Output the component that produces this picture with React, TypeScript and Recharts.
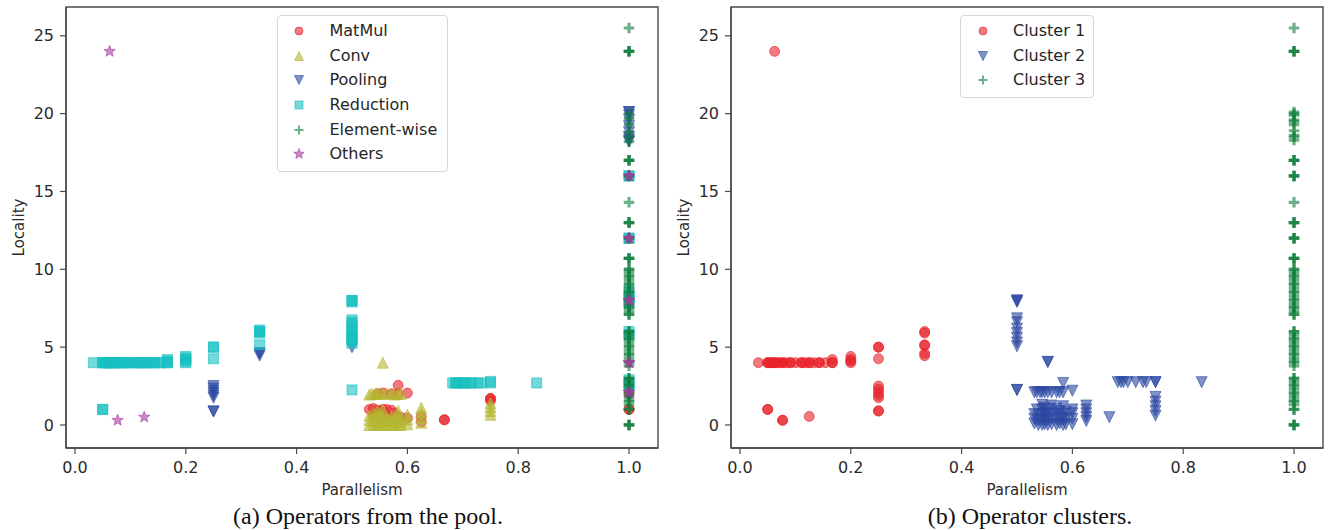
import React from 'react';
import { ScatterChart, Scatter, XAxis, YAxis, Legend, ReferenceArea } from 'recharts';

type Pt = [number, number];

// ---------- axes ----------
const xTicks = [0, 0.2, 0.4, 0.6, 0.8, 1.0];
const yTicks = [0, 5, 10, 15, 20, 25];
const xDomain: [number, number] = [-0.0162, 1.0523];
const yDomain: [number, number] = [-1.48, 26.85];
const xLabel = 'Parallelism';
const yLabel = 'Locality';
const captionA = '(a) Operators from the pool.';
const captionB = '(b) Operator clusters.';

// ---------- (a) operators from the pool ----------
const matmul: Pt[] = [
  [0.5833, 2.55], [0.6, 2.05],
  [0.5455, 2.0], [0.5556, 2.05], [0.5714, 2.0], [0.5833, 2.0],
  [0.5313, 1.0], [0.5385, 1.05], [0.5455, 0.95], [0.5556, 1.0], [0.5625, 1.0], [0.5714, 0.95],
  [0.5769, 0.75], [0.5385, 0.6], [0.55, 0.55], [0.5625, 0.5], [0.5882, 0.5],
  [0.6, 0.45], [0.625, 0.2], [0.625, 0.55],
  [0.6667, 0.33], [0.6667, 0.33],
  [0.75, 1.7], [0.75, 1.55], [0.75, 1.7],
  [1.0, 2.0], [1.0, 1.0], [1.0, 1.0],
];

const conv: Pt[] = [
  [0.5556, 4.0],
  [0.5313, 1.95], [0.5357, 2.0], [0.5417, 2.0], [0.5455, 2.05], [0.55, 2.0], [0.5556, 2.0],
  [0.5625, 2.05], [0.5714, 2.0], [0.5769, 1.95], [0.5833, 2.0], [0.5882, 2.0],
  [0.5313, 0.0], [0.5313, 0.3], [0.5313, 0.6],
  [0.5385, 0.0], [0.5385, 0.25], [0.5385, 0.5], [0.5385, 0.8],
  [0.5455, 0.0], [0.5455, 0.3], [0.5455, 0.6], [0.5455, 0.9],
  [0.55, 0.0], [0.55, 0.2], [0.55, 0.5], [0.55, 0.7],
  [0.5556, 0.0], [0.5556, 0.3], [0.5556, 0.6], [0.5556, 1.0],
  [0.5625, 0.0], [0.5625, 0.25], [0.5625, 0.5],
  [0.5714, 0.0], [0.5714, 0.3], [0.5714, 0.6],
  [0.5769, 0.0], [0.5769, 0.2], [0.5769, 0.45],
  [0.5833, 0.0], [0.5833, 0.3], [0.5833, 0.6], [0.5833, 0.9],
  [0.5882, 0.0], [0.5882, 0.2], [0.5882, 0.4],
  [0.6, 0.05], [0.6, 0.35], [0.6, 0.65],
  [0.625, 0.15], [0.625, 0.45], [0.625, 0.8], [0.625, 1.1],
  [0.75, 0.65], [0.75, 0.9], [0.75, 1.15], [0.75, 1.4],
];

const pooling: Pt[] = [
  [0.25, 2.5], [0.25, 2.35], [0.25, 2.2], [0.25, 2.05], [0.25, 1.9], [0.25, 1.75],
  [0.25, 0.87], [0.25, 0.87],
  [0.3333, 4.6], [0.3333, 4.45], [0.3333, 4.6],
  [0.5, 5.0],
  [1.0, 20.1], [1.0, 19.9], [1.0, 19.6], [1.0, 19.2], [1.0, 18.8], [1.0, 18.5], [1.0, 18.2],
  [1.0, 20.1], [1.0, 18.3],
];

const reduction: Pt[] = [
  [0.0333, 4], [0.05, 4], [0.0526, 4], [0.0556, 4], [0.0588, 4], [0.0625, 4], [0.0667, 4],
  [0.0714, 4], [0.0769, 4], [0.0833, 4], [0.0909, 4], [0.1, 4], [0.1111, 4], [0.1176, 4],
  [0.125, 4], [0.1333, 4], [0.1429, 4], [0.1538, 4], [0.1667, 4], [0.1667, 4.2],
  [0.2, 4], [0.2, 4.2], [0.2, 4.4],
  [0.05, 4], [0.0625, 4], [0.0769, 4], [0.0909, 4], [0.1111, 4], [0.125, 4], [0.1429, 4],
  [0.1667, 4], [0.2, 4.1],
  [0.0556, 4], [0.0714, 4], [0.0833, 4], [0.1, 4], [0.1176, 4], [0.1333, 4], [0.1538, 4],
  [0.1667, 4.1], [0.2, 4.3],
  [0.05, 1.0], [0.05, 1.0],
  [0.25, 5.0], [0.25, 5.0], [0.25, 4.25],
  [0.3333, 6.0], [0.3333, 5.9], [0.3333, 6.1], [0.3333, 5.15], [0.3333, 6.0],
  [0.5, 8.0], [0.5, 7.9], [0.5, 8.0], [0.5, 6.75], [0.5, 6.5], [0.5, 6.25], [0.5, 6.0], [0.5, 5.75],
  [0.5, 5.5], [0.5, 5.25], [0.5, 6.6], [0.5, 5.4], [0.5, 2.25], [0.5, 6.1], [0.5, 5.6],
  [0.6818, 2.7], [0.6875, 2.7], [0.6923, 2.7], [0.7, 2.7], [0.7059, 2.7], [0.7143, 2.7],
  [0.7273, 2.7], [0.7333, 2.7], [0.75, 2.7], [0.75, 2.8], [0.8333, 2.7],
  [0.6875, 2.7], [0.7143, 2.7], [0.7, 2.7],
  [1.0, 16], [1.0, 16], [1.0, 12], [1.0, 12], [1.0, 8.6], [1.0, 8.3], [1.0, 8.0], [1.0, 7.8],
  [1.0, 6.0], [1.0, 5.8], [1.0, 2.9], [1.0, 2.7], [1.0, 2.5],
];

const elementwise: Pt[] = [
  [1, 25.5], [1, 24], [1, 24], [1, 24], [1, 20.0], [1, 19.7], [1, 19.3], [1, 18.8], [1, 18.5],
  [1, 18.2], [1, 17], [1, 17], [1, 17], [1, 16], [1, 16], [1, 14.3], [1, 13], [1, 13], [1, 13],
  [1, 12], [1, 12], [1, 10.7], [1, 10.7], [1, 10.7],
  [1, 10.0], [1, 10.0], [1, 9.8], [1, 9.6], [1, 9.5], [1, 9.3], [1, 9.1], [1, 9.0], [1, 8.8],
  [1, 8.6], [1, 8.5], [1, 8.3], [1, 8.1], [1, 8.0], [1, 7.8], [1, 7.6], [1, 7.5], [1, 7.3],
  [1, 7.1], [1, 7.1],
  [1, 6.0], [1, 6.0], [1, 5.8], [1, 5.6], [1, 5.5], [1, 5.3], [1, 5.1], [1, 5.0], [1, 4.8],
  [1, 4.6], [1, 4.5], [1, 4.3], [1, 4.1], [1, 4.0], [1, 3.8],
  [1, 3.0], [1, 3.0], [1, 2.8], [1, 2.6], [1, 2.5], [1, 2.3], [1, 2.1], [1, 2.0], [1, 1.8],
  [1, 1.6], [1, 1.5], [1, 1.3], [1, 1.0], [1, 1.0], [1, 0], [1, 0], [1, 0],
];

const others: Pt[] = [
  [0.0625, 24], [0.0769, 0.3], [0.125, 0.5],
  [1, 16], [1, 16], [1, 12], [1, 12], [1, 8], [1, 8], [1, 4], [1, 4], [1, 2.1], [1, 2.1],
];

// ---------- (b) operator clusters ----------
const cluster1: Pt[] = [
  [0.0625, 24],
  [0.0333, 4], [0.05, 4], [0.0526, 4], [0.0556, 4], [0.0588, 4], [0.0625, 4], [0.0667, 4],
  [0.0714, 4], [0.0769, 4], [0.0833, 4], [0.0909, 4], [0.1, 4], [0.1111, 4], [0.1176, 4],
  [0.125, 4], [0.1333, 4], [0.1429, 4], [0.1538, 4], [0.1667, 4], [0.1667, 4.2],
  [0.2, 4], [0.2, 4.2], [0.2, 4.4],
  [0.05, 4], [0.0625, 4], [0.0769, 4], [0.0909, 4], [0.1111, 4], [0.125, 4], [0.1429, 4],
  [0.1667, 4], [0.2, 4.1],
  [0.05, 1], [0.05, 1], [0.0769, 0.3], [0.0769, 0.3], [0.125, 0.55],
  [0.25, 5], [0.25, 5], [0.25, 4.25], [0.25, 2.5], [0.25, 2.3], [0.25, 2.1], [0.25, 1.9],
  [0.25, 1.75], [0.25, 0.9], [0.25, 0.9],
  [0.3333, 6.0], [0.3333, 5.9], [0.3333, 5.15], [0.3333, 5.1], [0.3333, 4.6], [0.3333, 4.45],
];

const cluster2: Pt[] = [
  [0.5, 8.0], [0.5, 7.9], [0.5, 6.85], [0.5, 6.6], [0.5, 6.2], [0.5, 5.9], [0.5, 5.6],
  [0.5, 5.3], [0.5, 5.05], [0.5, 2.25], [0.5, 2.25], [0.5, 8.0],
  [0.5556, 4.05], [0.5556, 4.05],
  [0.5833, 2.7], [0.6, 2.2],
  [0.5313, 2.1], [0.5357, 2.1], [0.5417, 2.1], [0.5455, 2.1], [0.55, 2.1], [0.5556, 2.1],
  [0.5625, 2.1], [0.5714, 2.1], [0.5769, 2.1], [0.5833, 2.1],
  [0.5313, 0.1], [0.5313, 0.4], [0.5313, 0.7], [0.5357, 1.0],
  [0.5385, 0.0], [0.5385, 0.3], [0.5385, 0.6],
  [0.5455, 0.0], [0.5455, 0.35], [0.5455, 0.7], [0.5455, 1.0], [0.5455, 1.3],
  [0.55, 0.05], [0.55, 0.4], [0.55, 0.75], [0.55, 1.1],
  [0.5556, 0.0], [0.5556, 0.3], [0.5556, 0.65], [0.5556, 1.0],
  [0.5625, 0.05], [0.5625, 0.45], [0.5625, 0.8], [0.5625, 1.25],
  [0.5714, 0.0], [0.5714, 0.35], [0.5714, 0.7], [0.5714, 1.05],
  [0.5769, 0.1], [0.5769, 0.5], [0.5769, 0.9],
  [0.5833, 0.0], [0.5833, 0.35], [0.5833, 0.7], [0.5833, 1.2],
  [0.5882, 0.05], [0.5882, 0.45], [0.5882, 0.85],
  [0.6, 0.05], [0.6, 0.4], [0.6, 0.75], [0.6, 1.0],
  [0.625, 1.25], [0.625, 1.0], [0.625, 0.75], [0.625, 0.5], [0.625, 0.25],
  [0.6667, 0.5],
  [0.6818, 2.75], [0.6875, 2.75], [0.6923, 2.75], [0.7, 2.75], [0.7143, 2.75], [0.7273, 2.75],
  [0.7333, 2.75], [0.75, 2.75], [0.75, 2.75],
  [0.75, 1.8], [0.75, 1.5], [0.75, 1.2], [0.75, 0.9], [0.75, 0.6],
  [0.8333, 2.75],
];

const cluster3: Pt[] = [
  [1, 25.5], [1, 24], [1, 24], [1, 24], [1, 20.1], [1, 20.0], [1, 19.9], [1, 19.6], [1, 19.5],
  [1, 19.3], [1, 18.9], [1, 18.6], [1, 18.5], [1, 18.3], [1, 17], [1, 17], [1, 17],
  [1, 16], [1, 16], [1, 16], [1, 14.3],
  [1, 13], [1, 13], [1, 13], [1, 12], [1, 12], [1, 12], [1, 10.7], [1, 10.7], [1, 10.7],
  [1, 10.0], [1, 10.0], [1, 9.8], [1, 9.6], [1, 9.5], [1, 9.3], [1, 9.1], [1, 9.0], [1, 8.8],
  [1, 8.6], [1, 8.5], [1, 8.3], [1, 8.1], [1, 8.0], [1, 7.8], [1, 7.6], [1, 7.5], [1, 7.3],
  [1, 7.1], [1, 7.1],
  [1, 6.0], [1, 6.0], [1, 5.8], [1, 5.6], [1, 5.5], [1, 5.3], [1, 5.1], [1, 5.0], [1, 4.8],
  [1, 4.6], [1, 4.5], [1, 4.3], [1, 4.1], [1, 4.0], [1, 3.8],
  [1, 3.0], [1, 3.0], [1, 2.8], [1, 2.6], [1, 2.5], [1, 2.3], [1, 2.1], [1, 2.0], [1, 1.8],
  [1, 1.6], [1, 1.5], [1, 1.3], [1, 1.0], [1, 1.0], [1, 0], [1, 0], [1, 0],
];

// ---------- styles ----------
const RED = '#e8212a';
const OLIVE = '#b4b830';
const NAVY = '#2c48a2';
const CYAN = '#17bfc2';
const GREEN = '#0d7d3b';
const MAGENTA = '#a33aa0';
const ALPHA = 0.6;
const FONT = 'DejaVu Sans, Verdana, sans-serif';

type Kind = 'circle' | 'tri-up' | 'tri-down' | 'square' | 'plus' | 'star';
interface SeriesDef { name: string; kind: Kind; color: string; data: Pt[] }

const seriesA: SeriesDef[] = [
  { name: 'MatMul', kind: 'circle', color: RED, data: matmul },
  { name: 'Conv', kind: 'tri-up', color: OLIVE, data: conv },
  { name: 'Pooling', kind: 'tri-down', color: NAVY, data: pooling },
  { name: 'Reduction', kind: 'square', color: CYAN, data: reduction },
  { name: 'Element-wise', kind: 'plus', color: GREEN, data: elementwise },
  { name: 'Others', kind: 'star', color: MAGENTA, data: others },
];

const seriesB: SeriesDef[] = [
  { name: 'Cluster 1', kind: 'circle', color: RED, data: cluster1 },
  { name: 'Cluster 2', kind: 'tri-down', color: NAVY, data: cluster2 },
  { name: 'Cluster 3', kind: 'plus', color: GREEN, data: cluster3 },
];

function starPath(cx: number, cy: number, R: number) {
  const r = R * 0.42;
  let d = '';
  for (let i = 0; i < 10; i++) {
    const a = -Math.PI / 2 + (i * Math.PI) / 5;
    const rr = i % 2 === 0 ? R : r;
    d += (i ? 'L' : 'M') + (cx + rr * Math.cos(a)).toFixed(2) + ',' + (cy + rr * Math.sin(a)).toFixed(2);
  }
  return d + 'Z';
}

function Marker({ kind, cx, cy, color, s, legend }: { kind: Kind; cx: number; cy: number; color: string; s: number; legend?: boolean }) {
  if (cx == null || cy == null || isNaN(cx) || isNaN(cy)) return null;
  const common = { fill: color, fillOpacity: ALPHA, stroke: color, strokeOpacity: ALPHA, strokeWidth: 1 };
  const h = s / 2;
  switch (kind) {
    case 'circle':
      return <circle cx={cx} cy={cy} r={h - 0.5} {...common} />;
    case 'square':
      return <rect x={cx - h + 0.5} y={cy - h + 0.5} width={s - 1} height={s - 1} {...common} />;
    case 'tri-up':
      return <path d={`M${cx},${cy - h}L${cx - h},${cy + h}L${cx + h},${cy + h}Z`} {...common} />;
    case 'tri-down':
      return <path d={`M${cx},${cy + h}L${cx - h},${cy - h}L${cx + h},${cy - h}Z`} {...common} />;
    case 'plus':
      return (
        <path
          d={`M${cx - h},${cy}H${cx + h}M${cx},${cy - h}V${cy + h}`}
          fill="none"
          stroke={color}
          strokeOpacity={ALPHA}
          strokeWidth={legend ? 2 : 3.2}
        />
      );
    case 'star':
      return <path d={starPath(cx, cy, h + 1)} {...common} />;
  }
  return null;
}

const SIZE: Record<Kind, number> = {
  circle: 11, square: 11, 'tri-up': 11, 'tri-down': 11, plus: 10.5, star: 10,
};

function LegendBox({ items, width }: { items: SeriesDef[]; width: number }) {
  return (
    <div
      style={{
        width,
        boxSizing: 'border-box',
        border: '1px solid #d6d6d6',
        borderRadius: 4,
        background: 'rgba(255,255,255,0.85)',
        padding: '3px 0 4px 0',
        fontFamily: FONT,
        fontSize: 16,
        color: '#262626',
      }}
    >
      {items.map((it) => (
        <div key={it.name} style={{ display: 'flex', alignItems: 'center', height: 24.6 }}>
          <svg width={20} height={20} style={{ marginLeft: 11.5, flex: 'none' }}>
            <Marker kind={it.kind} cx={10} cy={10} color={it.color} s={9} legend />
          </svg>
          <span style={{ marginLeft: 20.5, whiteSpace: 'nowrap', lineHeight: '20px' }}>{it.name}</span>
        </div>
      ))}
    </div>
  );
}

const toRows = (pts: Pt[]) => pts.map(([p, l]) => ({ p, l }));

const PLOT_W = 592;
const CHART_W = 665;
const AXIS_COLOR = '#4a4a4a';
const tickStyle = { fill: '#2b2b2b', fontSize: 16, fontFamily: FONT };

function YLabel(props: any) {
  const vb = props.viewBox || { x: 0, y: 7, width: 65, height: 441 };
  const x = vb.x + 18;
  const y = vb.y + vb.height / 2;
  return (
    <text
      x={x}
      y={y}
      transform={`rotate(-90, ${x}, ${y})`}
      textAnchor="middle"
      dominantBaseline="central"
      fill="#2b2b2b"
      fontSize={15}
      fontFamily={FONT}
    >
      {yLabel}
    </text>
  );
}

function XLabel(props: any) {
  const vb = props.viewBox || { x: 65, y: 448, width: 592, height: 60 };
  const x = vb.x + vb.width / 2;
  const y = vb.y + 42;
  return (
    <text x={x} y={y} textAnchor="middle" dominantBaseline="central" fill="#2b2b2b" fontSize={15} fontFamily={FONT}>
      {xLabel}
    </text>
  );
}

function Panel({ series, legendWidth }: { series: SeriesDef[]; legendWidth: number }) {
  const legendLeft = 65 + PLOT_W / 2 - legendWidth / 2;
  return (
    <ScatterChart
      width={CHART_W}
      height={530}
      margin={{ top: 7, right: CHART_W - 65 - PLOT_W, bottom: 22, left: 0 }}
    >
      <XAxis
        type="number"
        dataKey="p"
        domain={xDomain}
        ticks={xTicks}
        allowDataOverflow
        interval={0}
        tickFormatter={(v: number) => v.toFixed(1)}
        height={60}
        tickSize={6}
        tickMargin={8}
        tick={tickStyle}
        tickLine={{ stroke: AXIS_COLOR, strokeWidth: 1.2 }}
        axisLine={{ stroke: AXIS_COLOR, strokeWidth: 1.4 }}
        label={{ content: XLabel }}
      />
      <YAxis
        type="number"
        dataKey="l"
        domain={yDomain}
        ticks={yTicks}
        allowDataOverflow
        interval={0}
        width={65}
        tickSize={6}
        tickMargin={6}
        tick={tickStyle}
        tickLine={{ stroke: AXIS_COLOR, strokeWidth: 1.2 }}
        axisLine={{ stroke: AXIS_COLOR, strokeWidth: 1.4 }}
        label={{ content: YLabel }}
      />
      {series.map((s) => (
        <Scatter
          key={s.name}
          name={s.name}
          data={toRows(s.data)}
          isAnimationActive={false}
          shape={(p: any) => <Marker kind={s.kind} cx={p.cx} cy={p.cy} color={s.color} s={SIZE[s.kind]} />}
        />
      ))}
      <ReferenceArea
        x1={xDomain[0]}
        x2={xDomain[1]}
        y1={yDomain[0]}
        y2={yDomain[1]}
        fill="none"
        fillOpacity={0}
        stroke={AXIS_COLOR}
        strokeWidth={1.4}
        ifOverflow="visible"
      />
      <Legend
        layout="vertical"
        align="center"
        verticalAlign="middle"
        width={legendWidth}
        wrapperStyle={{ left: legendLeft, top: 15, width: legendWidth, height: 'auto' }}
        content={() => <LegendBox items={series} width={legendWidth} />}
      />
    </ScatterChart>
  );
}

const captionStyle: React.CSSProperties = {
  position: 'absolute',
  top: 502,
  width: 420,
  textAlign: 'center',
  fontFamily: '"Liberation Serif", "Times New Roman", serif',
  fontSize: 24,
  lineHeight: '28px',
  color: '#111',
  whiteSpace: 'nowrap',
};

export default function App() {
  return (
    <div style={{ position: 'absolute', left: 0, top: 0, width: 1331, height: 530, background: '#fff', overflow: 'hidden' }}>
      <div style={{ position: 'absolute', left: 1, top: 0 }}>
        <Panel series={seriesA} legendWidth={171} />
      </div>
      <div style={{ position: 'absolute', left: 666, top: 0 }}>
        <Panel series={seriesB} legendWidth={134} />
      </div>
      <div style={{ ...captionStyle, left: 368 - 210 }}>{captionA}</div>
      <div style={{ ...captionStyle, left: 1030 - 210 }}>{captionB}</div>
    </div>
  );
}
